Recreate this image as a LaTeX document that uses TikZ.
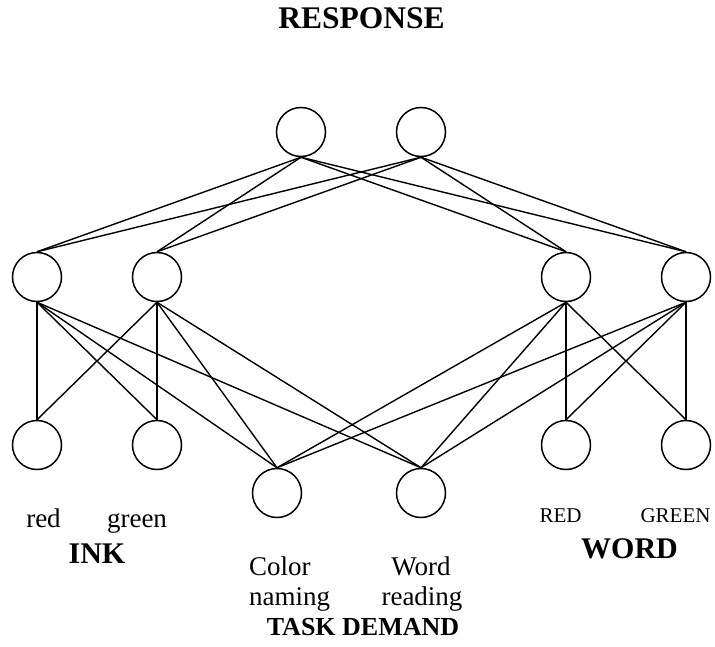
\documentclass[tikz,border=0pt]{standalone}
\usepackage{fontspec}
\setmainfont{Liberation Serif}
\begin{document}
\begin{tikzpicture}[x=1pt,y=-1pt,
  unit/.style={circle,draw,line width=1.5pt,minimum size=49pt,inner sep=0pt},
  link/.style={line width=1.4pt},
  lbl/.style={inner sep=0pt,anchor=base,font=\fontsize{27}{32}\selectfont},
  small/.style={inner sep=0pt,anchor=base,font=\fontsize{21}{25}\selectfont},
  title/.style={inner sep=0pt,anchor=base,font=\fontsize{30}{36}\selectfont\bfseries}]
\useasboundingbox (0,0) rectangle (715,646);

% response units
\node[unit] (r1) at (301,132) {};
\node[unit] (r2) at (421,132) {};
% hidden units
\node[unit] (h1) at (37,277) {};
\node[unit] (h2) at (157,277) {};
\node[unit] (h3) at (566,277) {};
\node[unit] (h4) at (686,277) {};
% input units
\node[unit] (i1) at (37,445) {};
\node[unit] (i2) at (157,445) {};
\node[unit] (t1) at (277,493) {};
\node[unit] (t2) at (421,493) {};
\node[unit] (w1) at (566,445) {};
\node[unit] (w2) at (686,445) {};

% connections
\foreach \r in {r1,r2}
  \foreach \h in {h1,h2,h3,h4}
    \draw[link] (\r.south) -- (\h.north);
\foreach \h in {h1,h2}
  \foreach \i in {i1,i2,t1,t2}
    \draw[link] (\h.south) -- (\i.north);
\foreach \h in {h3,h4}
  \foreach \i in {w1,w2,t1,t2}
    \draw[link] (\h.south) -- (\i.north);

% labels
\node[title,font=\fontsize{31.5}{36}\selectfont\bfseries] (resp) at (361.5,28) {RESPONSE};
\node[lbl] (red) at (43.5,527) {red};
\node[lbl] (green) at (137,527) {green};
\node[title] (ink) at (97,563) {INK};
\node[small] (RED) at (560.5,522) {RED};
\node[small] (GREEN) at (675.5,522) {GREEN};
\node[title] (word) at (629.5,558) {WORD};
\node[lbl,anchor=base west] (color) at (249,575) {Color};
\node[lbl,anchor=base west] (naming) at (249,605) {naming};
\node[lbl] (wordt) at (421,575) {Word};
\node[lbl] (reading) at (422,605) {reading};
\node[title,font=\fontsize{26}{31}\selectfont\bfseries] (task) at (363,635) {TASK DEMAND};
\end{tikzpicture}
\end{document}
